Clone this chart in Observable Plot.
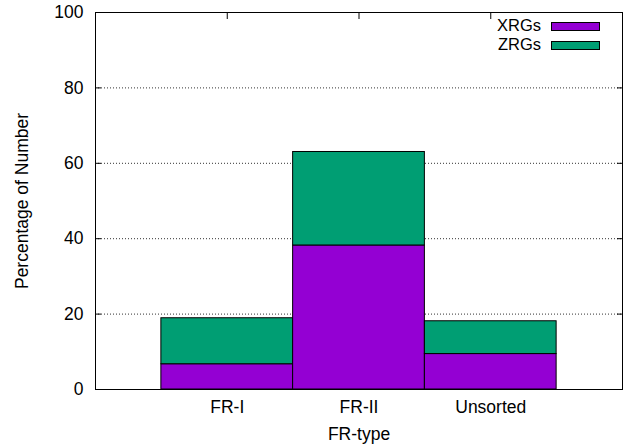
<!DOCTYPE html>
<html>
<head>
<meta charset="utf-8">
<script src="https://cdn.jsdelivr.net/npm/d3@7"></script>
<script src="https://cdn.jsdelivr.net/npm/@observablehq/plot@0.6"></script>
<style>
  html, body { margin: 0; padding: 0; background: #fff; }
  #wrap { position: relative; width: 628px; height: 447px; font-family: "Liberation Sans", Arial, sans-serif; }
  .leg-text { position: absolute; font-size: 16.5px; line-height: 18.9px; height: 18.9px; color: #000; text-align: right; width: 80px; }
  .leg-sw { position: absolute; width: 47px; height: 7px; border: 1px solid #000; }
</style>
</head>
<body>
<div id="wrap"></div>
<script>
const categories = ["FR-I", "FR-II", "Unsorted"];
const seriesNames = ["XRGs", "ZRGs"];
const xrgs = [6.7, 38.2, 9.4];
const zrgs = [12.2, 24.8, 8.7];
const yTicks = [0, 20, 40, 60, 80, 100];
const gridTicks = [20, 40, 60, 80];
const colors = ["#9400D3", "#009E73"];

const rows = [];
categories.forEach((c, i) => {
  rows.push({cat: c, i, series: "XRGs", y1: 0, y2: xrgs[i]});
  rows.push({cat: c, i, series: "ZRGs", y1: xrgs[i], y2: xrgs[i] + zrgs[i]});
});
const idx = categories.map((c, i) => i);

const chart = Plot.plot({
  width: 628,
  height: 447,
  marginLeft: 95,
  marginRight: 6,
  marginTop: 12,
  marginBottom: 58,
  style: {fontFamily: "Liberation Sans, Arial, sans-serif", fontSize: "17.5px", background: "#fff"},
  x: {domain: [-1, 3]},
  y: {domain: [0, 100]},
  color: {domain: seriesNames, range: colors},
  marks: [
    Plot.gridY(gridTicks, {stroke: "#333", strokeOpacity: 1, strokeWidth: 1, strokeDasharray: "1,2"}),
    Plot.rect(rows, {x1: d => d.i - 0.5, x2: d => d.i + 0.5, y1: "y1", y2: "y2", fill: "series", stroke: "#000", strokeWidth: 1}),
    Plot.axisY({ticks: yTicks, tickSize: 0, tickPadding: 12, label: "Percentage of Number", labelAnchor: "center", labelOffset: 80, labelArrow: "none", fontSize: 17.5}),
    Plot.axisY({ticks: yTicks, tickSize: -6, text: null, label: null}),
    Plot.axisY({ticks: yTicks, anchor: "right", tickSize: -6, text: null, label: null}),
    Plot.axisX({ticks: idx, tickFormat: i => categories[i], tickSize: 0, tickPadding: 11, label: "FR-type", labelAnchor: "center", labelOffset: 50, labelArrow: "none", fontSize: 17.5}),
    Plot.axisX({ticks: idx, anchor: "top", tickSize: -6, text: null, label: null}),
    Plot.frame({stroke: "#000", strokeWidth: 1})
  ]
});

const wrap = document.getElementById("wrap");
wrap.appendChild(chart);

seriesNames.forEach((s, k) => {
  const t = document.createElement("div");
  t.className = "leg-text";
  t.textContent = s;
  t.style.left = (541 - 80) + "px";
  t.style.top = (16.4 + k * 19) + "px";
  wrap.appendChild(t);
  const sw = document.createElement("div");
  sw.className = "leg-sw";
  sw.style.left = "551px";
  sw.style.top = (21.6 + k * 19) + "px";
  sw.style.background = colors[k];
  wrap.appendChild(sw);
});
</script>
</body>
</html>
